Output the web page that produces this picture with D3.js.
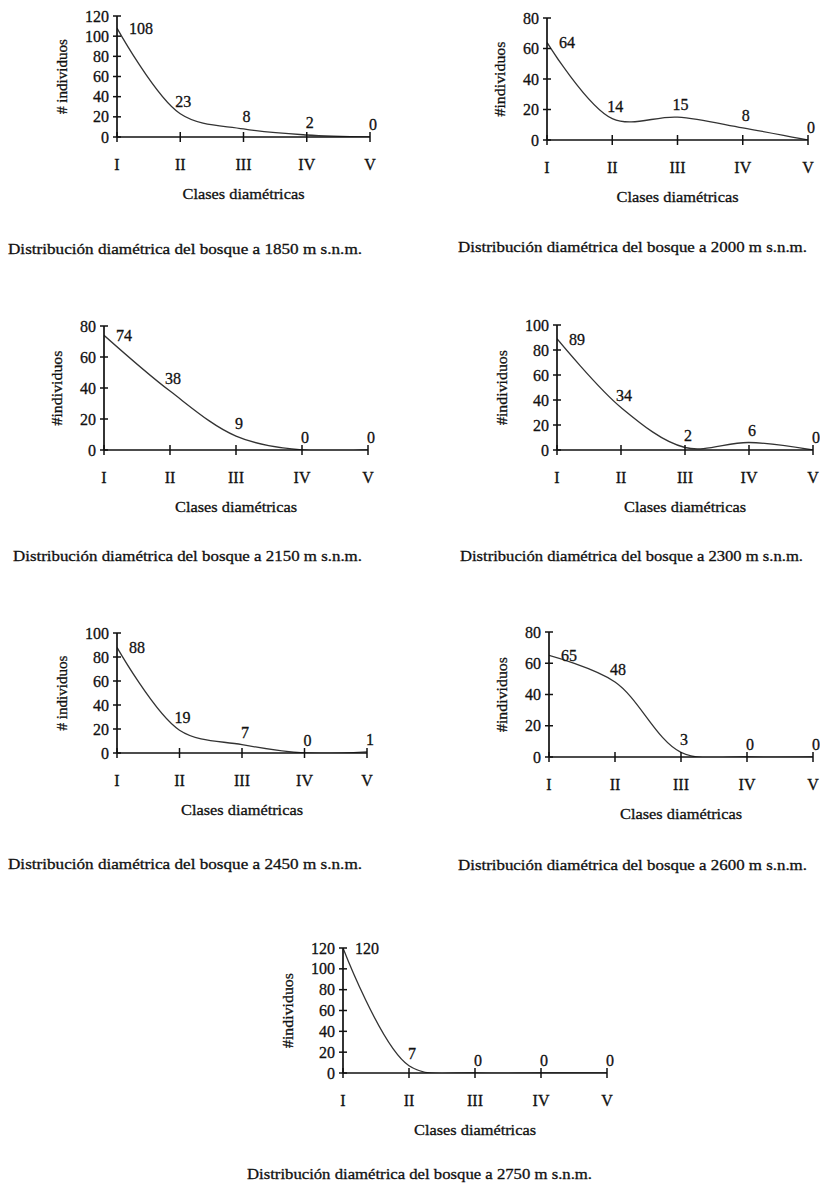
<!DOCTYPE html>
<html>
<head>
<meta charset="utf-8">
<script src="https://cdn.jsdelivr.net/npm/d3@7"></script>
<style>
  body { margin: 0; background: #fff; }
  svg text { font-family: "Liberation Serif", "Times New Roman", serif; fill: #111; stroke: #111; stroke-width: 0.3; }
</style>
</head>
<body>
<svg id="chart" width="820" height="1192"></svg>
<script>
// diameter classes and counts per altitude
const clases = ["I", "II", "III", "IV", "V"];
const altitudes = ["1850", "2000", "2150", "2300", "2450", "2600", "2750"];
const n1850 = [108, 23, 8, 2, 0];
const n2000 = [64, 14, 15, 8, 0];
const n2150 = [74, 38, 9, 0, 0];
const n2300 = [89, 34, 2, 6, 0];
const n2450 = [88, 19, 7, 0, 1];
const n2600 = [65, 48, 3, 0, 0];
const n2750 = [120, 7, 0, 0, 0];
const yMaxes = [120, 80, 80, 100, 100, 80, 120];
const yTitles = ["# individuos", "#individuos", "#individuos", "#individuos", "# individuos", "#individuos", "#individuos"];
const series = [n1850, n2000, n2150, n2300, n2450, n2600, n2750];

// panel frames: x of first/last class, y of top/zero, caption box
const frames = [
  { x0: 117, x1: 370, top: 16, zero: 137, capX: 8, capW: 354, capY: 254 },
  { x0: 547, x1: 808, top: 18, zero: 140, capX: 458, capW: 349, capY: 252 },
  { x0: 104, x1: 368, top: 326, zero: 450, capX: 13, capW: 349, capY: 561 },
  { x0: 557, x1: 813, top: 325, zero: 450, capX: 460, capW: 343, capY: 561 },
  { x0: 117, x1: 367, top: 633, zero: 753, capX: 8, capW: 354, capY: 869 },
  { x0: 549, x1: 813, top: 632, zero: 757, capX: 458, capW: 349, capY: 870 },
  { x0: 343, x1: 607, top: 948, zero: 1073, capX: 247, capW: 345, capY: 1179 }
];

const svg = d3.select("#chart");

frames.forEach((f, i) => {
  const vals = series[i];
  const x = d3.scalePoint().domain(clases).range([f.x0, f.x1]);
  const y = d3.scaleLinear().domain([0, yMaxes[i]]).range([f.zero, f.top]);
  const g = svg.append("g");

  // clip so the smoothed line does not dip under the axis
  const clipId = "clip" + i;
  g.append("clipPath").attr("id", clipId)
    .append("rect")
    .attr("x", f.x0).attr("y", f.top - 20)
    .attr("width", f.x1 - f.x0 + 2).attr("height", f.zero - f.top + 20);

  const line = d3.line()
    .x((d, j) => x(clases[j]))
    .y(d => y(d))
    .curve(d3.curveCatmullRom.alpha(0.5));

  g.append("path")
    .datum(vals)
    .attr("clip-path", `url(#${clipId})`)
    .attr("d", line)
    .attr("fill", "none")
    .attr("stroke", "#333")
    .attr("stroke-width", 1.3);

  // y axis with cross ticks
  const yAxis = g.append("g");
  yAxis.append("line")
    .attr("x1", f.x0).attr("x2", f.x0)
    .attr("y1", y(yMaxes[i])).attr("y2", y(0))
    .attr("stroke", "#111").attr("stroke-width", 1.7);
  const yTicks = d3.range(0, yMaxes[i] + 1, 20);
  yAxis.selectAll(".yt").data(yTicks).enter().append("line")
    .attr("x1", f.x0 - 4).attr("x2", f.x0 + 4)
    .attr("y1", d => y(d)).attr("y2", d => y(d))
    .attr("stroke", "#111").attr("stroke-width", 1.5);
  yAxis.selectAll(".yl").data(yTicks).enter().append("text")
    .attr("x", f.x0 - 8)
    .attr("y", d => y(d))
    .attr("dy", "0.35em")
    .attr("text-anchor", "end")
    .attr("font-size", 16)
    .text(d => d);

  // x axis with cross ticks
  const xAxis = g.append("g");
  xAxis.append("line")
    .attr("x1", f.x0).attr("x2", f.x1)
    .attr("y1", f.zero).attr("y2", f.zero)
    .attr("stroke", "#111").attr("stroke-width", 1.7);
  xAxis.selectAll(".xt").data(clases).enter().append("line")
    .attr("x1", d => x(d)).attr("x2", d => x(d))
    .attr("y1", f.zero - 5).attr("y2", f.zero + 5)
    .attr("stroke", "#111").attr("stroke-width", 1.5);
  xAxis.selectAll(".xl").data(clases).enter().append("text")
    .attr("x", d => x(d))
    .attr("y", f.zero + 33)
    .attr("text-anchor", "middle")
    .attr("font-size", 16)
    .text(d => d);

  // value labels
  g.selectAll(".vl").data(vals).enter().append("text")
    .attr("x", (d, j) => j === 0 ? x(clases[j]) + 12 : x(clases[j]) + 3)
    .attr("y", (d, j) => j === 0 ? y(d) + 6 : y(d) - 7)
    .attr("text-anchor", (d, j) => j === 0 ? "start" : "middle")
    .attr("font-size", 16)
    .text(d => d);

  // axis titles
  g.append("text")
    .attr("x", x("III"))
    .attr("y", f.zero + 62)
    .attr("text-anchor", "middle")
    .attr("font-size", 15)
    .attr("textLength", 122)
    .attr("lengthAdjust", "spacingAndGlyphs")
    .text("Clases diamétricas");

  const yOff = String(yMaxes[i]).length * 8 + 31;
  g.append("text")
    .attr("transform", `translate(${f.x0 - yOff},${(f.top + f.zero) / 2}) rotate(-90)`)
    .attr("dy", "0.35em")
    .attr("text-anchor", "middle")
    .attr("font-size", 14)
    .attr("textLength", 75)
    .attr("lengthAdjust", "spacingAndGlyphs")
    .text(yTitles[i]);

  // caption
  svg.append("text")
    .attr("x", f.capX)
    .attr("y", f.capY)
    .attr("font-size", 15)
    .attr("textLength", f.capW)
    .attr("lengthAdjust", "spacingAndGlyphs")
    .text(`Distribución diamétrica del bosque a ${altitudes[i]} m s.n.m.`);
});
</script>
</body>
</html>
